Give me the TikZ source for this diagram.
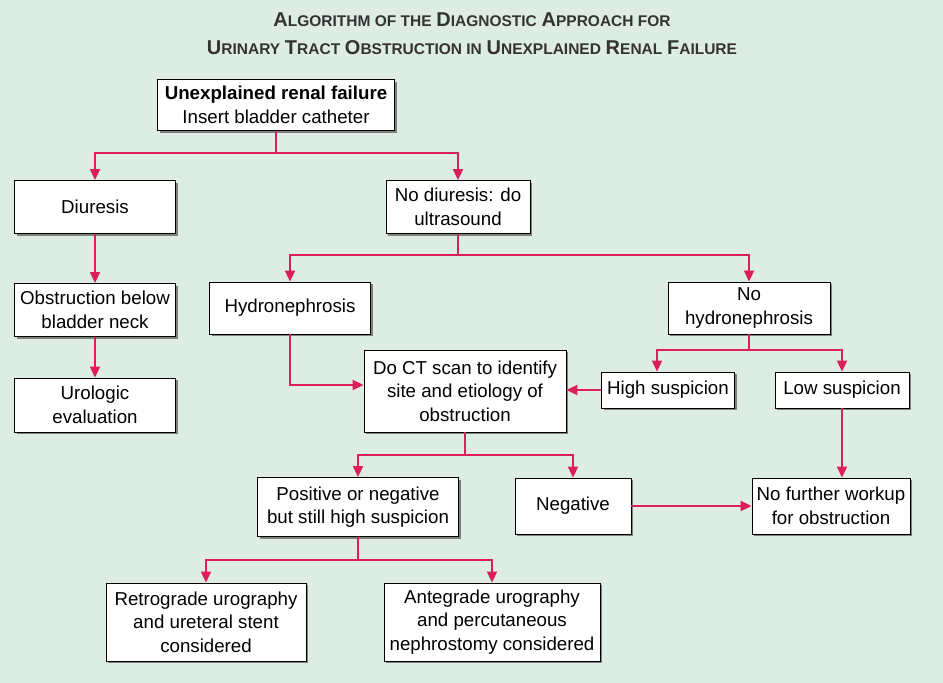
\documentclass[tikz,border=0pt]{standalone}
\usepackage{fontspec}
\setmainfont{Liberation Sans}
\usetikzlibrary{arrows.meta,shadows}
\definecolor{bg}{HTML}{DDEDE3}
\definecolor{ln}{HTML}{DC1F5C}
\newcommand{\Tw}[2]{{\fontsize{20}{28}\selectfont #1}{\fontsize{15.5}{28}\selectfont #2}}
\begin{document}
\begin{tikzpicture}[x=1pt,y=-1pt,
  box/.style={draw=black,line width=0.9pt,fill=white,align=center,font=\fontsize{18.7}{23.5}\selectfont,inner sep=0pt,
    drop shadow={shadow xshift=2pt,shadow yshift=-2pt,fill=black!50,opacity=1}},
  ar/.style={draw=ln,line width=2pt,-{Triangle[length=11pt,width=10pt]}},
  ln/.style={draw=ln,line width=2pt}]
\fill[bg] (0,0) rectangle (943,683);
\node[font=\bfseries\fontsize{17}{28}\selectfont,text=black!80,align=center] (title) at (472,34)
 {\Tw{A}{LGORITHM OF THE} \Tw{D}{IAGNOSTIC} \Tw{A}{PPROACH FOR}\\
  \Tw{U}{RINARY} \Tw{T}{RACT} \Tw{O}{BSTRUCTION IN} \Tw{U}{NEXPLAINED} \Tw{R}{ENAL} \Tw{F}{AILURE}};
\newcommand{\B}[6]{\node[box,minimum width=#4pt,minimum height=#5pt] (#1) at (#2,#3) {#6};}
\B{top}{276}{105}{237}{51}{\textbf{Unexplained renal failure}\\Insert bladder catheter}
\B{diu}{95}{207}{161}{53}{Diuresis}
\B{nod}{458}{207}{144}{53}{No diuresis: do\\ultrasound}
\B{obs}{95}{310}{161}{53}{Obstruction below\\bladder neck}
\B{uro}{95}{405}{161}{54}{Urologic\\evaluation}
\B{hyd}{290}{308}{161}{52}{Hydronephrosis}
\B{noh}{749}{308}{162}{52}{No\\hydronephrosis}
\B{ct}{465}{391}{202}{82}{Do CT scan to identify\\site and etiology of\\obstruction}
\B{high}{668}{390}{133}{36}{High suspicion}
\B{low}{842}{390}{134}{36}{Low suspicion}
\B{pos}{358}{507}{201}{59}{Positive or negative\\but still high suspicion}
\B{neg}{573}{506}{116}{56}{Negative}
\B{nfw}{831}{506}{158}{56}{No further workup\\for obstruction}
\B{ret}{206}{622}{200}{78}{Retrograde urography\\and ureteral stent\\considered}
\B{ant}{492}{622}{216}{78}{Antegrade urography\\and percutaneous\\nephrostomy considered}
\coordinate (j1) at (276,153);
\draw[ln] (top.south) -- (j1);
\draw[ar] (j1) -| (diu.north);
\draw[ar] (j1) -| (nod.north);
\draw[ar] (diu) -- (obs);
\draw[ar] (obs) -- (uro);
\coordinate (j2) at (458,255);
\draw[ln] (nod.south) -- (j2);
\draw[ar] (j2) -| (hyd.north);
\draw[ar] (j2) -| (noh.north);
\draw[ar] (hyd.south) |- (ct.west |- 0,385);
\coordinate (j3) at (749,350);
\draw[ln] (noh.south) -- (j3);
\draw[ar] (j3) -| (high.north -| 657,0);
\draw[ar] (j3) -| (low.north);
\draw[ar] (high.west) -- (ct.east |- high.west);
\draw[ar] (low.south) -- (nfw.north -| low.south);
\coordinate (j4) at (465,455);
\draw[ln] (ct.south) -- (j4);
\draw[ar] (j4) -| (pos.north);
\draw[ar] (j4) -| (neg.north);
\draw[ar] (neg.east) -- (nfw.west);
\coordinate (j5) at (358,560);
\draw[ln] (pos.south) -- (j5);
\draw[ar] (j5) -| (ret.north);
\draw[ar] (j5) -| (ant.north);
\end{tikzpicture}
\end{document}
